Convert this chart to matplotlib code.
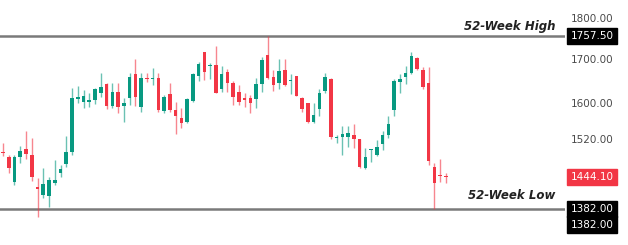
import matplotlib
matplotlib.use("Agg")
import matplotlib.pyplot as plt
from matplotlib.transforms import blended_transform_factory

# OHLC data
opens = [1495, 1485.5, 1434.8, 1485.5, 1502, 1490, 1425, 1409, 1407, 1433,
         1453, 1471, 1496, 1611, 1603.5, 1604, 1608, 1624, 1644, 1595,
         1626, 1595, 1612.5, 1667, 1592, 1658, 1656, 1658, 1584, 1621,
         1586, 1568, 1560, 1606, 1662.5, 1719, 1686, 1688, 1633, 1672,
         1646, 1626, 1612.5, 1612, 1610, 1644, 1712, 1660, 1646, 1676,
         1650, 1662, 1612, 1601, 1560, 1588, 1628, 1656, 1525, 1527,
         1527, 1532, 1523, 1463, 1500, 1490, 1513, 1532, 1586, 1649,
         1660, 1669.5, 1705, 1676, 1646, 1465, 1449, 1446]
highs = [1515, 1489.6, 1489.6, 1508.4, 1540, 1525, 1443, 1463, 1445, 1479,
         1469, 1529.5, 1635, 1639.5, 1630.5, 1624, 1635, 1669.5, 1646, 1646,
         1646, 1612.5, 1669.5, 1702, 1669.5, 1669.5, 1681, 1669.5, 1619, 1646,
         1603.5, 1590, 1612.5, 1669.5, 1695, 1719, 1693, 1733, 1686, 1679,
         1651, 1642, 1624, 1619, 1658, 1707, 1757.5, 1676, 1702, 1702,
         1667, 1662.5, 1615, 1602, 1601, 1633, 1669.5, 1657, 1532, 1551,
         1551, 1555, 1524, 1504, 1503, 1521, 1540, 1573, 1656, 1667,
         1686, 1719, 1706, 1683, 1683, 1473, 1481, 1453]
lows = [1488, 1452.9, 1428.8, 1473.2, 1481, 1437, 1367, 1403, 1386, 1429,
        1445, 1465, 1490, 1601, 1590, 1592, 1599, 1615, 1588, 1590,
        1579, 1560, 1597, 1595, 1581, 1649, 1642, 1581, 1579, 1581,
        1534, 1547, 1557, 1603.5, 1651, 1653, 1656, 1624, 1626, 1626,
        1597, 1597, 1592, 1579, 1590, 1626, 1656, 1628, 1633, 1640,
        1621, 1616, 1581, 1557, 1557, 1573, 1624, 1523, 1515, 1490,
        1506, 1504, 1463, 1461, 1475, 1487.5, 1500, 1525, 1573, 1624,
        1644, 1668, 1677, 1633, 1469, 1382, 1435, 1433]
closes = [1493, 1463, 1485.5, 1498, 1492, 1445, 1421, 1431, 1439, 1439,
          1461, 1496, 1612.5, 1614, 1617, 1607, 1633, 1637, 1595, 1626,
          1592, 1601, 1660, 1615, 1658, 1656, 1658, 1586, 1615, 1586,
          1573, 1557, 1610, 1667, 1690, 1672, 1688, 1624, 1667, 1646,
          1615, 1603.5, 1608, 1601, 1644, 1700, 1658, 1642, 1674, 1642,
          1652, 1617, 1588, 1560, 1575, 1624, 1660, 1527, 1527, 1534,
          1536, 1523, 1465, 1485.5, 1502, 1506, 1532, 1555, 1651, 1656,
          1669.5, 1709, 1679, 1637, 1477, 1433, 1447, 1444.1]

tick_values = [1800, 1700, 1600, 1520]
week52_high = 1757.50
week52_low = 1382.00
last_price = 1444.10

GREEN = "#089981"
RED = "#F23645"

fig = plt.figure(figsize=(6.28, 2.45), dpi=100)
ax = fig.add_axes([0, 0, 565 / 628, 1])
ax.set_yscale("log")
ax.set_ylim(1314.4, 1847.7)
ax.set_xlim(-0.52, 97.7)
ax.axis("off")

xs = list(range(len(opens)))
cols = [GREEN if c >= o else RED for o, c in zip(opens, closes)]
ax.vlines(xs, lows, highs, colors=cols, linewidth=1.0, alpha=0.6, zorder=2)
bottoms = [min(o, c) for o, c in zip(opens, closes)]
heights = [max(abs(c - o), 2.5) for o, c in zip(opens, closes)]
ax.bar(xs, heights, bottom=bottoms, width=0.62, color=cols, linewidth=0, zorder=3)

# 52-week lines
ax.axhline(week52_high, color="#7a7a7a", linewidth=1.8, zorder=1)
ax.axhline(week52_low, color="#7a7a7a", linewidth=1.8, zorder=1)

tr = blended_transform_factory(ax.transAxes, ax.transData)
ax.text(555 / 565, 1780, "52-Week High", transform=tr, ha="right", va="center",
        fontsize=8.5, fontweight="bold", fontstyle="italic", color="#222222")
ax.text(555 / 565, 1408, "52-Week Low", transform=tr, ha="right", va="center",
        fontsize=8.5, fontweight="bold", fontstyle="italic", color="#222222")

lx = 592 / 565
for v in tick_values:
    ax.text(lx, v, f"{v:.2f}", transform=tr, ha="center", va="center",
            fontsize=7.5, color="#4a4a4a", clip_on=False)

def box(y, txt, fc):
    ax.text(lx, y, txt, transform=tr, ha="center", va="center", fontsize=7.5,
            color="white", clip_on=False,
            bbox=dict(boxstyle="square,pad=0.3", fc=fc, ec=fc))

box(week52_high, f"{week52_high:.2f}", "black")
box(last_price, f"{last_price:.2f}", RED)
box(week52_low, f"{week52_low:.2f}", "black")
box(week52_low * 0.9785, f"{week52_low:.2f}", "black")

fig.savefig("out.png", dpi=100)
